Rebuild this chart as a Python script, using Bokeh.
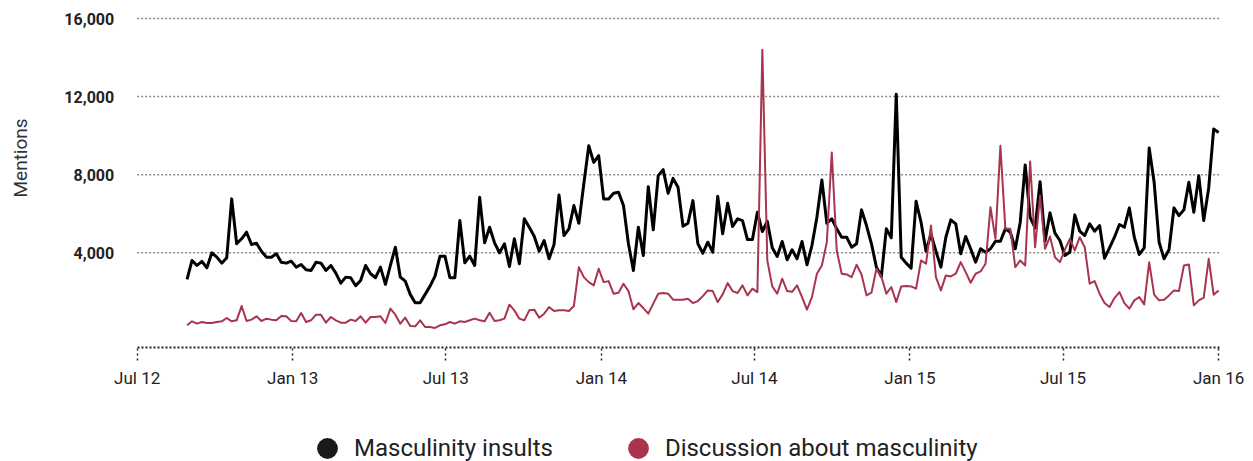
import pandas as pd
from bokeh.plotting import figure
from bokeh.models import (Range1d, FixedTicker, DatetimeTickFormatter, Legend, LegendItem,
                          Title, NumeralTickFormatter)
from bokeh.embed import file_html
from bokeh.resources import INLINE

# ---- data -------------------------------------------------------------
start_date = "2012-08-29"
end_date = "2016-01-01"

insults = [
    2637, 3608, 3352, 3557, 3235, 4001, 3778, 3470, 3745, 6762,
    4463, 4718, 5055, 4426, 4492, 4083, 3778, 3778, 3950, 3521,
    3470, 3572, 3265, 3403, 3133, 3097, 3521, 3470, 3097, 3352,
    2959, 2448, 2754, 2724, 2315, 2586, 3352, 2928, 2724, 3265,
    2381, 3352, 4289, 2754, 2550, 1870, 1446, 1446, 1870, 2294,
    2805, 3827, 3827, 2724, 2724, 5652, 3490, 3827, 3352, 6842,
    4512, 5309, 4512, 4001, 4461, 3301, 4717, 3439, 5739, 5309,
    4849, 4083, 4630, 3695, 4425, 6965, 4885, 5228, 6418, 5514,
    7527,
    9484, 8631, 8973, 6761, 6761, 7047, 7099, 6418, 4461, 3097,
    5309, 3863, 7389, 5176, 7951, 8258, 7047, 7813, 7353, 5360,
    5514, 6674, 4461, 3981, 4543, 4032, 6893, 4972, 6536, 5345,
    5739, 5652, 4681, 4681, 6076, 5090, 5616, 4257, 3812, 4579,
    3643,
    4155, 3695, 4579, 3388, 4374, 5820, 7731, 5514, 5739, 5228,
    4798, 4798, 4287, 4461, 6198, 5396, 4461, 3265, 2790, 5228,
    4768, 12126, 3776, 3470, 3214, 6638, 5565, 4083, 4972, 4083,
    3265, 4798, 5687, 5483, 3950, 4834, 4206, 3521, 4206, 4032,
    4206,
    4594, 4594, 5228, 5054, 4206, 5565, 8498, 5820, 5279, 7645,
    4594, 6045, 5003, 4630, 3863, 4032, 5943, 5105, 4885, 5483,
    5105, 5396, 3725, 4257, 4798, 5447, 5309, 6301, 4798, 3914,
    4257, 9367, 7609, 4543, 3695, 4155, 6301, 5907, 6198, 7609,
    6076, 7951, 5652, 7323, 10338, 10164,
]

discussion = [
    286, 491, 371, 457, 406, 406, 457, 491, 661, 491,
    542, 1273, 508, 577, 746, 508, 627, 577, 542, 763,
    746, 508, 491, 916, 457, 542, 831, 831, 423, 712,
    542, 423, 423, 577, 508, 746, 423, 712, 712, 746,
    406, 1141, 831, 371, 678, 252, 235, 542, 201, 201,
    150, 286, 337, 457, 371, 491, 457, 542, 627, 542,
    491, 933, 508, 542, 627, 1344, 1052, 627, 542, 1052,
    1089, 678, 882, 1222, 1018, 1052, 1052, 1018, 1273, 3265,
    2754,
    2499, 2330, 3183, 2499, 2550, 1906, 1957, 2417, 2039, 1104,
    1426, 1170, 884, 1395, 1906, 1942, 1906, 1599, 1599, 1599,
    1651, 1426, 1528, 1783, 2075, 2039, 1477, 1870, 2448, 2039,
    1942, 2330, 1819, 2162, 1988, 14400, 3608, 2279, 1906, 2673,
    2039,
    2003, 2330, 1732, 1089, 1732, 2928, 3352, 4543, 9142, 4119,
    2928, 2892, 2754, 3388, 2892, 1819, 1957, 3183, 2790, 1906,
    2248, 1477, 2279, 2296, 2279, 2162, 3608, 3439, 5396, 2754,
    2075, 2841, 2790, 2928, 3521, 3010, 2468, 2928, 3045, 3439,
    6331,
    4717, 9484, 5228, 5228, 3265, 3608, 3352, 8682, 4287, 6929,
    4206, 4834, 3776, 3521, 4155, 4717, 4119, 4798, 4287, 2417,
    2550, 1906, 1426, 1222, 1681, 1988, 1426, 1140, 1564, 1732,
    1359, 3521, 1855, 1564, 1600, 1819, 2075, 2039, 3352, 3403,
    1308, 1564, 1702, 3695, 1855, 2075,
]

series_names = ["Masculinity insults", "Discussion about masculinity"]
y_ticks = [4000, 8000, 12000, 16000]
x_tick_dates = ["2012-07-01", "2013-01-01", "2013-07-01", "2014-01-01",
                "2014-07-01", "2015-01-01", "2015-07-01", "2016-01-01"]
y_label = "Mentions"
x_axis_level = -850   # value where the dotted baseline sits

# ---- geometry helpers (pixels) -------------------------------------------
W, H = 1253, 461
FRAME_L = 33             # left edge of drawing frame
AX_L, AX_R = 133, 1218   # pixel positions of first / last x tick
PLOT_R = 1220            # right end of grid / axis line
Y_TOP_PX, Y_BASE_PX = 18, 347   # pixel rows of the top tick and of the baseline

t0 = pd.Timestamp(x_tick_dates[0])
t1 = pd.Timestamp(x_tick_dates[-1])
ppd = (AX_R - AX_L) / ((t1 - t0) / pd.Timedelta(days=1))
x_lo = t0 - pd.Timedelta(days=(AX_L - FRAME_L) / ppd)
x_hi = t1 + pd.Timedelta(days=(W - AX_R) / ppd)
grid_end = t1 + pd.Timedelta(days=(PLOT_R - AX_R) / ppd)

vpp = (y_ticks[-1] - x_axis_level) / (Y_BASE_PX - Y_TOP_PX)
y_hi = y_ticks[-1] + Y_TOP_PX * vpp
y_lo = x_axis_level - (H - Y_BASE_PX) * vpp

def ms(t):
    return pd.Timestamp(t).value // 10**6

# ---- figure -----------------------------------------------------------
dates = pd.date_range(start_date, end_date, periods=len(insults))

BLACK = "#000000"
RED = "#A8344E"

p = figure(width=W, height=H, x_axis_type="datetime",
           output_backend="svg", toolbar_location=None,
           x_range=Range1d(x_lo, x_hi),
           y_range=Range1d(y_lo, y_hi),
           min_border_left=FRAME_L, min_border_right=0,
           min_border_top=0, min_border_bottom=0)
p.outline_line_color = None
p.background_fill_color = "white"
p.border_fill_color = "white"

# dotted horizontal grid lines at the y ticks
p.segment(x0=[t0] * len(y_ticks), y0=y_ticks, x1=[grid_end] * len(y_ticks), y1=y_ticks,
          line_dash="2 2", line_color="#8c8c8c", line_width=1.5)
p.xgrid.grid_line_color = None
p.ygrid.grid_line_color = None

p.line(dates, insults, line_color=BLACK, line_width=3, line_join="round")
p.line(dates, discussion, line_color=RED, line_width=2, line_join="round")

# x axis (drawn inside the frame at a fixed value)
xa = p.xaxis[0]
xa.fixed_location = x_axis_level
xa.bounds = (ms(t0), ms(grid_end))
xa.ticker = FixedTicker(ticks=[ms(d) for d in x_tick_dates])
xa.formatter = DatetimeTickFormatter(days="%b %y", months="%b %y", years="%b %y")
xa.axis_line_dash = "2 2"
xa.axis_line_color = "#222222"
xa.axis_line_width = 2
xa.major_tick_in = 0
xa.major_tick_out = 13
xa.major_tick_line_dash = "2 3"
xa.major_tick_line_color = "#222222"
xa.major_tick_line_width = 1.5
xa.minor_tick_line_color = None
xa.major_label_standoff = 7
xa.major_label_text_font = "Roboto"
xa.major_label_text_font_size = "17px"
xa.major_label_text_color = "#222222"

# y axis (fixed at the first x tick)
ya = p.yaxis[0]
ya.fixed_location = ms(t0)
ya.ticker = FixedTicker(ticks=y_ticks)
ya.formatter = NumeralTickFormatter(format="0,0")
ya.axis_line_color = None
ya.major_tick_line_color = None
ya.minor_tick_line_color = None
ya.major_tick_in = 0
ya.major_tick_out = 0
ya.major_label_standoff = 23
ya.major_label_text_font = "Roboto"
ya.major_label_text_font_size = "16px"
ya.major_label_text_font_style = "bold"
ya.major_label_text_color = "#222222"

ylab = Title(text=y_label, align="left", offset=264, standoff=12, text_font="Roboto",
             text_font_size="19px", text_font_style="normal", text_color="#333333")
p.add_layout(ylab, "left")

# legend: zero-size markers on the series so the legend shows filled dots
g1 = p.scatter(dates, insults, marker="circle", size=0, fill_color="#1a1a1a", line_color=None)
g2 = p.scatter(dates, discussion, marker="circle", size=0, fill_color=RED, line_color=None)
legend = Legend(items=[LegendItem(label=series_names[0], renderers=[g1]),
                       LegendItem(label=series_names[1], renderers=[g2])],
                location=(297 - FRAME_L, -13), orientation="horizontal",
                glyph_width=52, glyph_height=52, label_standoff=1, spacing=59,
                padding=0, margin=0, border_line_color=None, background_fill_alpha=0,
                label_text_font="Roboto", label_text_font_size="24px",
                label_text_color="#222222")
p.add_layout(legend)

open("out.html", "w").write(file_html(p, INLINE))
